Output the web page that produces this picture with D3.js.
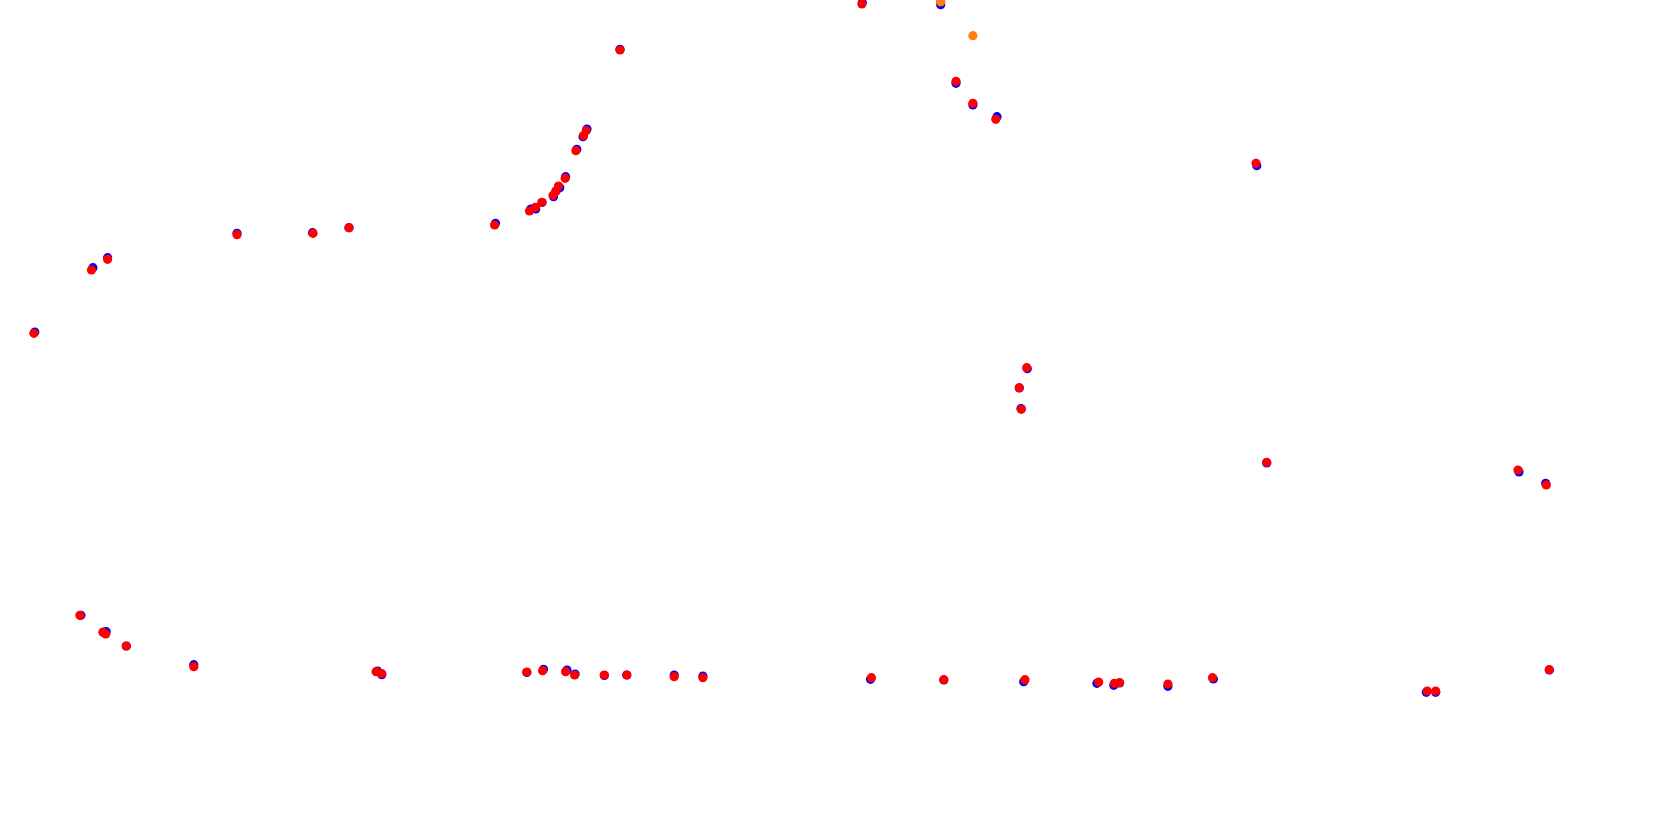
<!DOCTYPE html>
<html><head><meta charset="utf-8">
<script src="https://cdn.jsdelivr.net/npm/d3@7"></script>
<style>html,body{margin:0;padding:0;background:#fff;overflow:hidden}</style>
</head><body>
<script>
// Track position samples (x, y in track units)
const blueX = [34.8,92.9,107.6,237,312.5,349,495.5,530.8,535.7,553.6,559.8,565.6,576.8,583,587,620,862.3,940.7,956,972.9,997,1256.8,1027.3,1019.3,1021,1266.7,1519,1545.7,1549.3,80.9,103.5,106.2,126.3,193.8,377.5,381.8,526.8,543.5,567,575.1,604.3,626.8,674.2,702.9,870.5,943.8,1023.7,1096.9,1113.8,1119.6,1167.9,1213.4,1426.3,1435.7,542,556];
const blueY = [332,267.7,257.7,233.3,232.7,227.7,223.3,209,209,196.7,187.7,176.7,149.3,136.7,129,49.3,2.7,4.7,83.3,105,116.7,165.7,368.7,388,408.5,463,472,483.3,670,615.3,632,631.7,646,664.7,671,674.7,672.5,669.3,670,674,675.5,675,675,676,679.3,680,681.7,683.3,685.3,683,686.3,679,692.3,692.3,202.5,191];
const redX = [33.9,91.5,107.6,237,313,349,494.6,529.5,535.3,553,558.5,565.2,575.9,583.5,586.2,620,861.9,940.7,956,972.9,995.8,1256,1026.7,1019.3,1021.3,1266.7,1518,1546.3,1549.3,79.9,102.9,105.7,126.3,193.8,376.1,381.8,526.8,542.6,565.6,574.6,604.3,626.8,674.2,702.9,871.4,943.8,1025,1098.7,1114.3,1119.6,1167.9,1212.5,1427.2,1435.7,542,556];
const redY = [333.3,270,259.3,234.7,233.3,227.7,225,211,207.3,195.3,186,178.3,150.7,135.7,130.7,50,4,2,81.3,103.3,119.3,163.3,367.7,387.7,409.3,462.3,470,485,669.7,615.3,632.3,634,646,666.7,671.7,673.7,672,670.7,671.7,675,675,675,676.7,677.7,677.7,679.7,679.7,682,683.3,682.7,684,677.7,691,691,202.3,191];
const orangeX = [940.7,972.9];
const orangeY = [1.7,35.7];

const W = 1680, H = 827;
const svg = d3.select("body").append("svg").attr("width", W).attr("height", H);
const x = d3.scaleLinear().domain([0, 1680]).range([0, W]);
const y = d3.scaleLinear().domain([0, 827]).range([0, H]);

function draw(xs, ys, color) {
  svg.append("g").selectAll("circle").data(xs.map((v, i) => [v, ys[i]])).join("circle")
    .attr("cx", d => x(d[0])).attr("cy", d => y(d[1])).attr("r", 4.6).attr("fill", color);
}
draw(blueX, blueY, "#0000ff");
draw(redX, redY, "#ff0000");
draw(orangeX, orangeY, "#ff7f0e");
</script>
</body></html>
